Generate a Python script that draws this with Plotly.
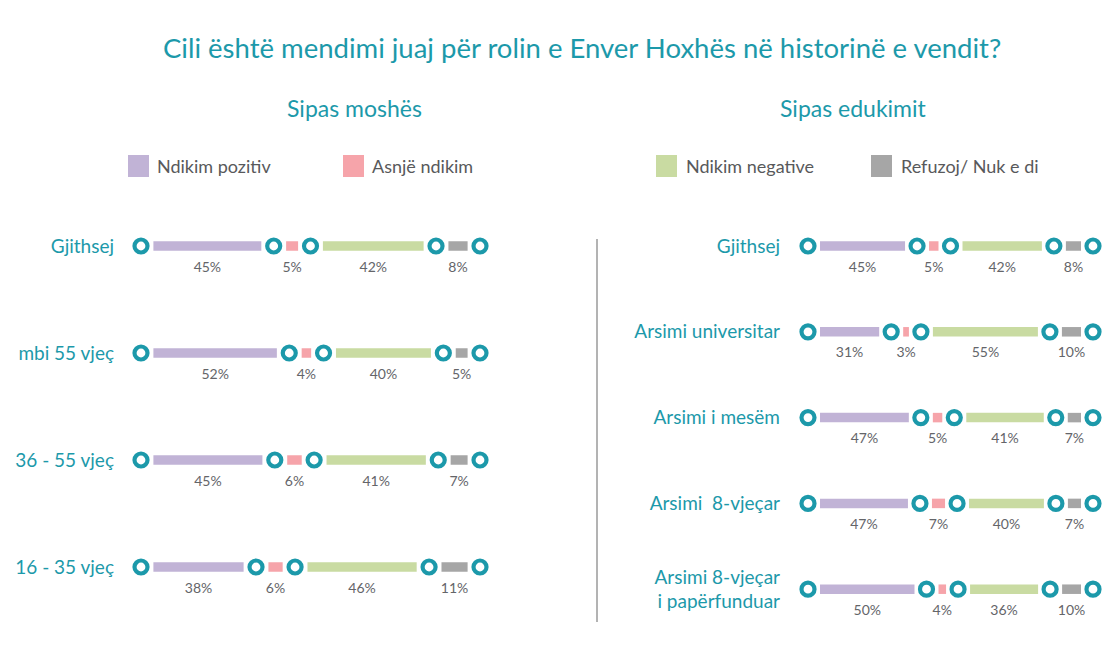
import plotly.graph_objects as go

# ---------------- data ----------------
age_groups = ["Gjithsej", "mbi 55 vjeç", "36 - 55 vjeç", "16 - 35 vjeç"]
age_pozitiv = [45, 52, 45, 38]
age_asnje = [5, 4, 6, 6]
age_negative = [42, 40, 41, 46]
age_refuzoj = [8, 5, 7, 11]

edu_groups = ["Gjithsej", "Arsimi universitar", "Arsimi i mesëm",
              "Arsimi  8-vjeçar", "Arsimi 8-vjeçar<br>i papërfunduar"]
edu_pozitiv = [45, 31, 47, 47, 50]
edu_asnje = [5, 3, 5, 7, 4]
edu_negative = [42, 55, 41, 40, 36]
edu_refuzoj = [8, 10, 7, 7, 10]

series_names = ["Ndikim pozitiv", "Asnjë ndikim", "Ndikim negative", "Refuzoj/ Nuk e di"]

title_text = "Cili është mendimi juaj për rolin e Enver Hoxhës në historinë e vendit?"
panel_titles = ["Sipas moshës", "Sipas edukimit"]

# ---------------- style ----------------
W, H = 1117, 661
TEAL = "#1c99aa"
COLORS = ["#c1b3d6", "#f6a4aa", "#c9dba2", "#a6a6a6"]
PCT_COLOR = "#646569"
LEG_COLOR = "#58595b"
FONT = "Lato"

panels = [
    dict(xa="x", ya="y", xkey="xaxis", ykey="yaxis", x0=141, x1=480, gap=12.4,
         y0=246, dy=107, label_right=114,
         groups=age_groups, series=[age_pozitiv, age_asnje, age_negative, age_refuzoj]),
    dict(xa="x2", ya="y2", xkey="xaxis2", ykey="yaxis2", x0=808, x1=1093, gap=12,
         y0=246, dy=85.8, label_right=780,
         groups=edu_groups, series=[edu_pozitiv, edu_asnje, edu_negative, edu_refuzoj]),
]

fig = go.Figure()
layout_axes = {}

for p in panels:
    k = (p["x1"] - p["x0"] - 8 * p["gap"]) / 100.0  # px per percentage point
    g = p["gap"] / k
    n = len(p["groups"])
    rows = list(range(n))
    bases = [[] for _ in range(4)]
    lengths = [[] for _ in range(4)]
    circ_x, circ_y = [], []
    txt_x, txt_y, txt = [], [], []
    for i in rows:
        vals = [s[i] for s in p["series"]]
        tot = sum(vals)
        c = 0.0
        circ_x.append(c); circ_y.append(i)
        for j, v in enumerate(vals):
            L = v * 100.0 / tot
            b = c + g
            bases[j].append(b)
            lengths[j].append(L)
            txt_x.append(b + L / 2); txt_y.append(i + 22.0 / p["dy"]); txt.append(f"{v}%")
            c = b + L + g
            circ_x.append(c); circ_y.append(i)
    for j in range(4):
        fig.add_trace(go.Bar(
            x=lengths[j], base=bases[j], y=rows, orientation="h",
            width=9.5 / p["dy"], marker=dict(color=COLORS[j], line=dict(width=0)),
            name=series_names[j], showlegend=False,
            xaxis=p["xa"], yaxis=p["ya"]))
    fig.add_trace(go.Scatter(
        x=circ_x, y=circ_y, mode="markers",
        marker=dict(symbol="circle-open", size=13, color=TEAL, line=dict(width=4.2, color=TEAL)),
        showlegend=False, xaxis=p["xa"], yaxis=p["ya"], hoverinfo="skip"))
    fig.add_trace(go.Scatter(
        x=txt_x, y=txt_y, mode="text", text=txt, textposition="middle center",
        textfont=dict(size=14, color=PCT_COLOR, family=FONT),
        showlegend=False, xaxis=p["xa"], yaxis=p["ya"], hoverinfo="skip"))

    layout_axes[p["xkey"]] = dict(
        domain=[0, 1], range=[-p["x0"] / k, (W - p["x0"]) / k],
        visible=False, fixedrange=True, anchor=p["ya"])
    layout_axes[p["ykey"]] = dict(
        domain=[0, 1], range=[(H - p["y0"]) / p["dy"], -p["y0"] / p["dy"]],
        anchor="free", position=p["label_right"] / W,
        tickvals=rows, ticktext=p["groups"], ticks="", showline=False,
        showgrid=False, zeroline=False, automargin=False,
        tickfont=dict(size=19, color=TEAL, family=FONT), fixedrange=True)

fig.update_layout(**layout_axes)

# legend (drawn manually)
legend_items = [
    (series_names[0], COLORS[0], 128, 155),
    (series_names[1], COLORS[1], 343, 370),
    (series_names[2], COLORS[2], 656, 684),
    (series_names[3], COLORS[3], 871, 899),
]
shapes = []
annotations = []
for name, col, sx, tx in legend_items:
    shapes.append(dict(type="rect", xref="paper", yref="paper",
                       x0=sx / W, x1=(sx + 21) / W, y0=1 - 155 / H, y1=1 - 177 / H,
                       fillcolor=col, line=dict(width=0)))
    annotations.append(dict(text=name, xref="paper", yref="paper", x=tx / W, y=1 - 166 / H,
                            xanchor="left", yanchor="middle", showarrow=False,
                            font=dict(size=18, color=LEG_COLOR, family=FONT)))

# divider
shapes.append(dict(type="line", xref="paper", yref="paper", x0=597 / W, x1=597 / W,
                   y0=1 - 239 / H, y1=1 - 622 / H, line=dict(color="#b3b3b3", width=2)))

annotations.append(dict(text=title_text, xref="paper", yref="paper", x=582 / W, y=1 - 47 / H,
                        xanchor="center", yanchor="middle", showarrow=False,
                        font=dict(size=27.5, color=TEAL, family=FONT)))
annotations.append(dict(text=panel_titles[0], xref="paper", yref="paper", x=354 / W, y=1 - 108 / H,
                        xanchor="center", yanchor="middle", showarrow=False,
                        font=dict(size=23, color=TEAL, family=FONT)))
annotations.append(dict(text=panel_titles[1], xref="paper", yref="paper", x=853 / W, y=1 - 108 / H,
                        xanchor="center", yanchor="middle", showarrow=False,
                        font=dict(size=23, color=TEAL, family=FONT)))

fig.update_layout(
    width=W, height=H, margin=dict(l=0, r=0, t=0, b=0),
    paper_bgcolor="white", plot_bgcolor="rgba(0,0,0,0)",
    barmode="overlay", showlegend=False,
    shapes=shapes, annotations=annotations,
    font=dict(family=FONT),
)

fig.write_html("out.html", config={"displayModeBar": False},
               post_script="document.body.style.margin='0px';")
